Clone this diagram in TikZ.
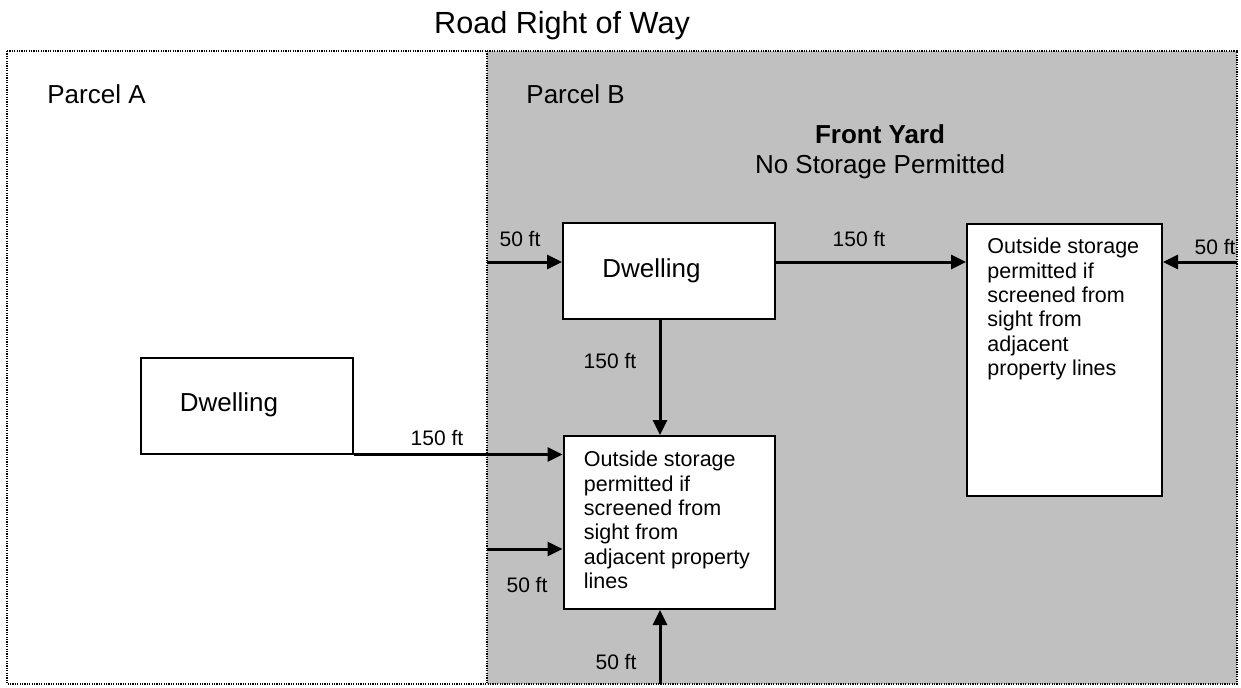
\documentclass[tikz,border=0pt]{standalone}
\usepackage{fontspec}
\setmainfont{Liberation Sans}
\usepackage{tikz}
\usetikzlibrary{arrows.meta,positioning}
\usepackage{xcolor}
\definecolor{yard}{HTML}{C0C0C0}

\begin{document}
\begin{tikzpicture}[
    x=0.5pt, y=-0.5pt,
    node distance=57.5pt,
    house/.style={draw, line width=1pt, fill=white, rectangle, minimum width=106pt, minimum height=48pt, inner sep=0pt},
    store/.style={draw, line width=1pt, fill=white, rectangle, inner sep=0pt},
    boxtext/.style={align=left, inner sep=0pt, anchor=north west, font=\fontsize{10.75}{12.15}\selectfont},
    dist/.style={inner sep=0pt, font=\fontsize{10.5}{12}\selectfont},
    title/.style={inner sep=0pt, font=\fontsize{13}{15}\selectfont},
    lot/.style={draw, line width=0.7pt, dash pattern=on 0.6pt off 0.6pt},
    arrow/.style={line width=1.5pt, -{Triangle[length=7.5pt, width=7pt]}}
]
    \useasboundingbox (0,0) rectangle (1241,687);

    % Draw parcels
    \coordinate (nw) at (7,51);
    \coordinate (se) at (1237,684);
    \coordinate (divtop) at (487,51);
    \coordinate (divbot) at (487,684);
    \fill[yard] (divtop) rectangle (se);
    \draw[lot] (nw) rectangle (se);
    \draw[lot] (divtop) -- (divbot);

    % Draw nodes
    \node (road) [anchor=base, inner sep=0pt, font=\fontsize{15.3}{18}\selectfont] at (562,33) {Road Right of Way};
    \node (parcelA) [title, anchor=base west] at (47,103.5) {Parcel A};
    \node (parcelB) [title, anchor=base west] at (526,103.5) {Parcel B};
    \node (front) [title, anchor=base, font=\fontsize{13}{15}\selectfont\bfseries] at (880,143.5) {Front Yard};
    \node (nostore) [title, anchor=base] at (880,173) {No Storage Permitted};

    \node (dwellA) [house] at (246.5,405.5) {};
    \node (dwellB) [house] at (669,271) {};
    \node (storeB) [store, below=of dwellB, minimum width=105.5pt, minimum height=86.5pt] {};
    \node (storeR) [store, minimum width=97.5pt, minimum height=136pt] at (1064.5,360) {};

    \node (dwellAtxt) [title, anchor=base west] at ([xshift=20pt, yshift=-3pt]dwellA.west) {Dwelling};
    \node (dwellBtxt) [title, anchor=base west] at ([xshift=20pt, yshift=-3pt]dwellB.west) {Dwelling};
    \node (storeBtxt) [boxtext] at ([xshift=10.5pt, yshift=-8pt]storeB.north west) {Outside storage\\permitted if\\screened from\\sight from\\adjacent property\\lines};
    \node (storeRtxt) [boxtext] at ([xshift=10.5pt, yshift=-7.5pt]storeR.north west) {Outside storage\\permitted if\\screened from\\sight from\\adjacent\\property lines};

    \node (dist1) [dist] at (520,239) {50 ft};
    \node (dist2) [dist] at (859,239) {150 ft};
    \node (dist3) [dist] at (1215,247) {50 ft};
    \node (dist4) [dist] at (610,361) {150 ft};
    \node (dist5) [dist] at (437,438) {150 ft};
    \node (dist6) [dist] at (527,585) {50 ft};
    \node (dist7) [dist] at (616,662) {50 ft};

    % Draw connections
    \coordinate (rowB) at (0,262);
    \coordinate (rowC) at (0,549);
    \coordinate (colB) at (660,0);
    \draw[arrow] (rowB -| divtop) -- (rowB -| dwellB.west);
    \draw[arrow] (rowB -| dwellB.east) -- (rowB -| storeR.west);
    \draw[arrow] (rowB -| se) -- (rowB -| storeR.east);
    \draw[arrow] (colB |- dwellB.south) -- (colB |- storeB.north);
    \draw[arrow] (dwellA.south east) -- (dwellA.south east -| storeB.west);
    \draw[arrow] (rowC -| divtop) -- (rowC -| storeB.west);
    \draw[arrow] (colB |- se) -- (colB |- storeB.south);

\end{tikzpicture}
\end{document}
